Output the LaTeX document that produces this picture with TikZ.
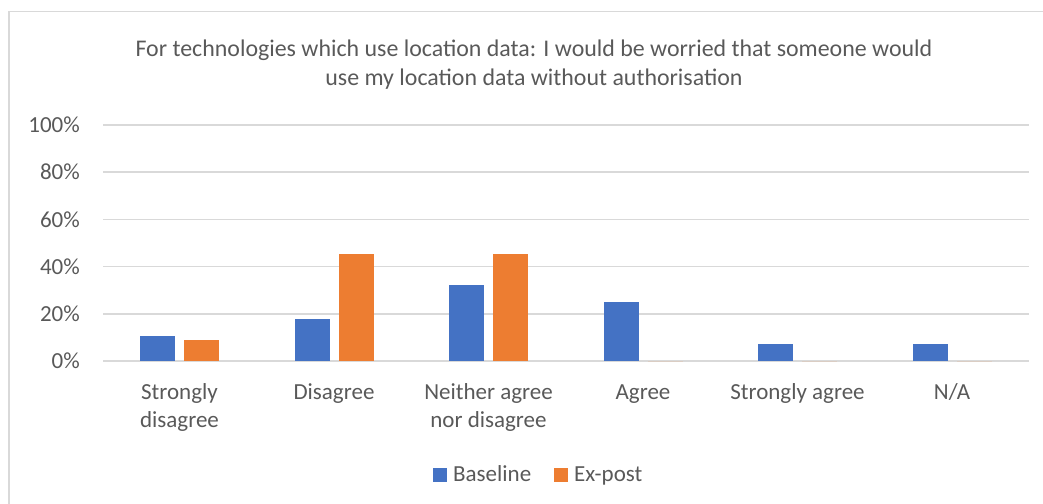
\documentclass[tikz,border=0pt]{standalone}
\usepackage{fontspec}
\setmainfont{Carlito}
\definecolor{baseblue}{HTML}{4472C4}
\definecolor{expostorange}{HTML}{ED7D31}
\definecolor{gridgray}{HTML}{D9D9D9}
\definecolor{labelgray}{HTML}{595959}

\begin{document}
\begin{tikzpicture}[x=1pt, y=-1pt, every node/.style={text=labelgray, inner sep=0pt, font=\fontsize{23}{28}\selectfont}]
\useasboundingbox (0,0) rectangle (1043,503);
\draw[color=gridgray, line width=1.5pt] (9,11.7) rectangle (1060,520);
\node[align=center, anchor=base, font=\fontsize{23.9}{29}\selectfont] (title) at (534,85) {For technologies which use location data: I would be worried that someone would\\use my location data without authorisation};
% grid and percentages
\foreach \v in {0,20,...,100} {
  \draw[color=gridgray, line width=1.5pt] (103,{361-2.36*\v}) -- (1029,{361-2.36*\v});
  \node[anchor=east] (tick\v) at (80,{361-2.36*\v}) {\v\%};
}
% bars: baseline / ex-post
\foreach \i/\b/\e in {0/10.7/9.1, 1/17.9/45.5, 2/32.1/45.5, 3/25/0, 4/7.1/0, 5/7.1/0} {
  \fill[baseblue] ({179.5+154.5*\i-39.5},361) rectangle ({179.5+154.5*\i-4.5},{361-2.36*\b});
  \fill[expostorange] ({179.5+154.5*\i+4.5},361) rectangle ({179.5+154.5*\i+39.5},{361-2.36*\e});
}
\foreach \i/\y/\lab in {0/427/{Strongly\\disagree}, 1/399/Disagree, 2/427/{Neither agree\\nor disagree}, 3/399/Agree, 4/399/{Strongly agree}, 5/399/{N/A}}
  \node[align=center, anchor=base] (cat\i) at ({179.5+154.5*\i},\y) {\lab};
% legend
\fill[baseblue] (433,468) rectangle (447,482);
\node[anchor=base west] (baseline) at (453,481) {Baseline};
\fill[expostorange] (554,468) rectangle (568,482);
\node[anchor=base west] (expost) at (574,481) {Ex-post};
\end{tikzpicture}
\end{document}
